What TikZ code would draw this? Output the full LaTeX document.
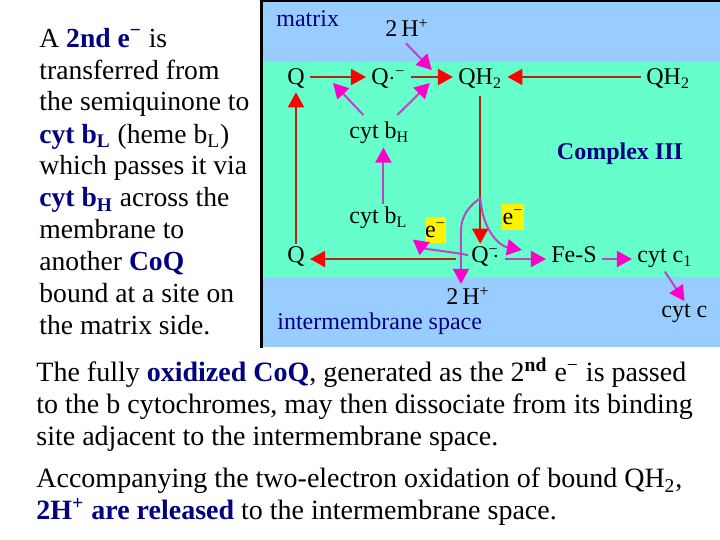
\documentclass[tikz,border=0pt]{standalone}
\usepackage{fontspec}
\setmainfont{Liberation Serif}
\usetikzlibrary{arrows.meta}
\usetikzlibrary{calc}

\definecolor{matrixblue}{RGB}{153,204,255}
\definecolor{membgreen}{RGB}{102,255,204}
\definecolor{labelnavy}{RGB}{0,0,128}
\definecolor{redline}{RGB}{175,40,20}
\definecolor{redhead}{RGB}{255,0,0}
\definecolor{magline}{RGB}{185,70,195}
\definecolor{maghead}{RGB}{255,0,204}

\newcommand{\hl}[1]{\textbf{\textcolor{labelnavy}{#1}}}

\begin{document}
\begin{tikzpicture}[x=0.5pt,y=-0.5pt,
  chem/.style={font=\fontsize{12}{14}\selectfont, inner ysep=1.5pt, inner xsep=2.5pt},
  elbox/.style={chem, fill=yellow, inner xsep=0.3pt, minimum height=13pt},
  redarrow/.style={draw=redline, line width=1pt,
    -{Triangle[length=7.5pt,width=8pt,color=redhead]}},
  magarrow/.style={draw=magline, line width=1pt,
    -{Triangle[length=7.5pt,width=8pt,color=maghead]}},
  prose/.style={align=left, inner sep=0pt, anchor=base west}]

  \useasboundingbox (0,0) rectangle (720,540);

  % matrix, membrane and intermembrane space
  \fill[matrixblue] (262,1) rectangle (720,347);
  \fill[membgreen]  (262,62) rectangle (720,277);
  \draw[line width=1pt]   (260,1) -- (720,1);
  \draw[line width=1.5pt] (261.5,0) -- (261.5,348);

  % rows of the horizontal arrows
  \coordinate (toprow) at (0,77);
  \coordinate (botrow) at (0,259);

  % compartment labels
  \node[chem, anchor=base west, text=labelnavy] (matrixlbl) at (271,27) {matrix};
  \node[chem, anchor=base west, text=labelnavy] (imslbl) at (272,330) {intermembrane space};
  \node[chem, font=\fontsize{12}{14}\selectfont\bfseries, text=labelnavy] (complex) at (620,154) {Complex III};

  % matrix side
  \node[chem, anchor=base west] (Htop) at (380,37) {2\,H\textsuperscript{+}};
  \node[chem, anchor=base] (Qtop) at (296,85) {Q};
  \node[chem, anchor=base west] (Qsemi) at (366,85) {Q$\cdot$\textsuperscript{−}};
  \node[chem, anchor=base west] (QHtwo) at (453,85) {QH\textsubscript{2}};
  \node[chem, anchor=base west] (QHtwoR) at (641,85) {QH\textsubscript{2}};

  % b cytochromes
  \node[chem, anchor=base west] (cytbH) at (344,139) {cyt b\textsubscript{H}};
  \node[chem, anchor=base west] (cytbL) at (344,224) {cyt b\textsubscript{L}};
  \node[elbox] (eL) at (435.5,230) {e\textsuperscript{−}};
  \node[elbox] (eR) at (513,217.5) {e\textsuperscript{−}};

  % intermembrane side
  \node[chem, anchor=base] (Qbot) at (296,263) {Q};
  \node[chem, anchor=base west] (Qsemib) at (466,263)
    {Q\rlap{\textsuperscript{−}}\,$\cdot$};
  \node[chem, anchor=base west] (FeS) at (546,263) {Fe-S};
  \node[chem, anchor=base west] (cytcone) at (632,263) {cyt c\textsubscript{1}};
  \node[chem, anchor=base west] (cytc) at (656,318) {cyt c};
  \node[chem, anchor=base west] (Hbot) at (441,305) {2\,H\textsuperscript{+}};

  % Q cycle, red arrows
  \draw[redarrow] (Qtop.east |- toprow) -- (Qsemi.west |- toprow)
    coordinate[pos=0.41] (onQQs);
  \draw[redarrow] (Qsemi.east |- toprow) -- (QHtwo.west |- toprow)
    coordinate[pos=0.45] (onQsQH);
  \draw[redarrow] (QHtwoR.west |- toprow) -- (QHtwo.east |- toprow);
  \draw[redarrow] (Qbot.north) -- (Qtop.south);
  \draw[redarrow] ([yshift=-2pt]QHtwo.south) -- (QHtwo.south |- Qsemib.north)
    coordinate[pos=0.69] (split);
  \draw[redarrow] ([xshift=-5pt]Qsemib.west |- botrow) -- (Qbot.east |- botrow);

  % electrons and protons, magenta arrows
  \draw[magarrow] ($(Htop.south)+(-1,3)$) -- ($(onQsQH)+(2,-7)$);
  \draw[magarrow] ($(cytbH.north)+(-16,-4)$) -- ($(onQQs)+(0,6)$);
  \draw[magarrow] ($(cytbH.north)+(18,-4)$) -- ($(onQsQH)+(0,6)$);
  \draw[magarrow] ($(cytbL.north)+(5,0)$) -- ($(cytbL.north |- cytbH.south)+(5,0)$);

  \coordinate (bend) at (461,232);
  \coordinate (eRtip) at (522,250);
  \draw[magarrow] (split) .. controls (470,206) and (461,214) .. (bend) -- (bend |- Hbot.north);
  \draw[magarrow] (split) .. controls (483,232) and (500,246) .. (eRtip);
  \draw[magarrow] ($(Qsemib.west)+(2,-2)$) .. controls (445,251) and (425,249) .. ($(cytbL.south east)+(0,7)$);

  \draw[magarrow] (Qsemib.east |- botrow) -- (FeS.west |- botrow);
  \draw[magarrow] (FeS.east |- botrow) -- (cytcone.west |- botrow);
  \draw[magarrow] (cytcone.south) -- (cytc.north);

  % explanatory text (base = last line)
  \node[prose, font=\fontsize{13.8}{16}\selectfont] (sidetext) at (39,335)
    {A \hl{2nd e\textsuperscript{−}} is\\
     transferred from\\
     the semiquinone to\\
     \hl{cyt b\textsubscript{L}} (heme b\textsubscript{L})\\
     which passes it via\\
     \hl{cyt b\textsubscript{H}} across the\\
     membrane to\\
     another \hl{CoQ}\\
     bound at a site on\\
     the matrix side.};

  \node[prose, font=\fontsize{14}{16}\selectfont] (bottomtext) at (36,446)
    {The fully \hl{oxidized CoQ}, generated as the 2\textsuperscript{\textbf{nd}} e\textsuperscript{−} is passed\\
     to the b cytochromes, may then dissociate from its binding\\
     site adjacent to the intermembrane space.};

  \node[prose, font=\fontsize{14}{16}\selectfont] (protontext) at (36,520)
    {Accompanying the two-electron oxidation of bound QH\textsubscript{2},\\
     \hl{2H\textsuperscript{+} are released} to the intermembrane space.};

\end{tikzpicture}
\end{document}
